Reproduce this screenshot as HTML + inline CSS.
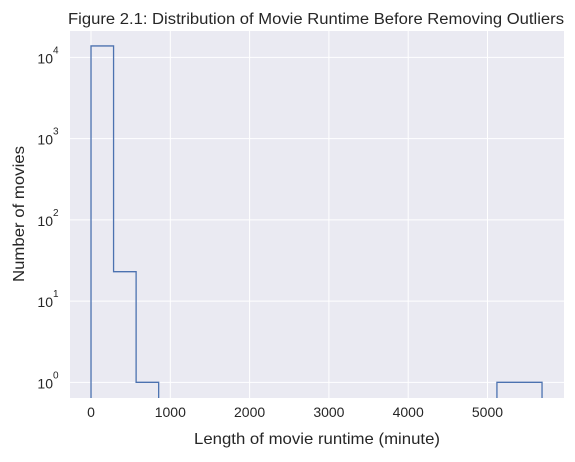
<!DOCTYPE html>
<html><head><meta charset="utf-8"><style>
body{margin:0;background:#fff;font-family:"Liberation Sans",sans-serif}
svg text{font-family:"Liberation Sans",sans-serif;fill:#262626}
</style></head><body>
<svg width="575" height="457">
<text x="316" y="24" font-size="15.5" text-anchor="middle" textLength="496" lengthAdjust="spacingAndGlyphs">Figure 2.1: Distribution of Movie Runtime Before Removing Outliers</text>
<rect x="70" y="31" width="494" height="367" fill="#eaeaf2"/>
<g id="grid"></g><g id="ticks"></g>
<path id="hist" fill="none" stroke="#4c72b0" stroke-width="1.3"/>
<text x="317" y="444" font-size="16" text-anchor="middle" textLength="246" lengthAdjust="spacingAndGlyphs">Length of movie runtime (minute)</text>
<text transform="translate(24,214) rotate(-90)" font-size="16" text-anchor="middle" textLength="136" lengthAdjust="spacingAndGlyphs">Number of movies</text>
</svg>
<script>
const binEdgeStart=0, binWidth=284.4;
const counts=[13800,23,1,0,0,0,0,0,0,0,0,0,0,0,0,0,0,0,1,1];
const xTicks=[0,1000,2000,3000,4000,5000];
const yTicks=[0,1,2,3,4];
const L=70,R=564,T=31,B=398,xmin=-265,xmax=5965,ymin=-0.193,ymax=4.324;
const X=v=>L+(v-xmin)/(xmax-xmin)*(R-L);
const Y=c=>c<=0?B:B-(Math.log10(c)-ymin)/(ymax-ymin)*(B-T);
const ns="http://www.w3.org/2000/svg";
const g=document.getElementById('grid'),tk=document.getElementById('ticks');
function mk(t,a,p){const e=document.createElementNS(ns,t);for(const k in a)e.setAttribute(k,a[k]);p.appendChild(e);return e;}
xTicks.forEach(v=>{
 const l=mk('line',{x1:X(v),x2:X(v),y1:T,y2:B,stroke:'#fff','stroke-width':1},g);
 
 
 const t=mk('text',{x:X(v),y:B+19,'font-size':14,'text-anchor':'middle'},tk);t.textContent=v;
 
 
});
yTicks.forEach(p=>{
 const y=Y(Math.pow(10,p));
 const l=mk('line',{x1:L,x2:R,y1:y,y2:y,stroke:'#fff','stroke-width':1},g);
 
 
 const t=mk('text',{x:53,y:y+6,'font-size':14,'text-anchor':'end'},tk);t.textContent='10';
 
 
 const s=mk('text',{x:53,y:y-4,'font-size':10},tk);s.textContent=p;
 
 
});
// build step path, breaking at empty bins
let d='',prevZero=true;
counts.forEach((c,i)=>{
 const x0=X(binEdgeStart+i*binWidth),x1=X(binEdgeStart+(i+1)*binWidth);
 if(c>0){
  if(prevZero) d+=`M${x0},${B}`;
  d+=`L${x0},${Y(c)}L${x1},${Y(c)}`;
  const next=counts[i+1]||0;
  if(next<=0) d+=`L${x1},${B}`;
  prevZero=false;
 } else prevZero=true;
});
document.getElementById('hist').setAttribute('d',d);
</script>
</body></html>
